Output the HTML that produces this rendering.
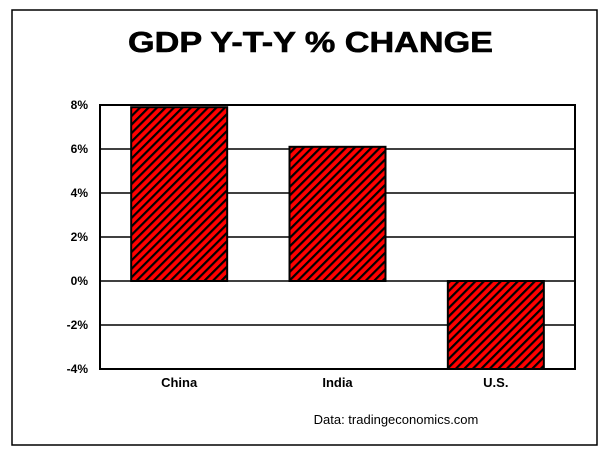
<!DOCTYPE html>
<html><head><meta charset="utf-8"><style>
html,body{margin:0;padding:0;background:#fff;width:612px;height:464px;overflow:hidden}
svg text{font-family:"Liberation Sans",Arial,sans-serif}
</style></head><body>
<svg id="chart" width="612" height="464">
<defs>
<pattern id="hatch" patternUnits="userSpaceOnUse" width="6" height="6" patternTransform="rotate(45)">
<rect width="6" height="6" fill="#f00"/>
<rect x="0" y="0" width="2.2" height="6" fill="#000"/>
</pattern>
</defs>
<rect x="12" y="10" width="585" height="435" fill="none" stroke="#000" stroke-width="1.5"/>
<text x="128" y="52" textLength="365" lengthAdjust="spacingAndGlyphs" font-size="29" font-weight="bold" stroke="#000" stroke-width="0.6">GDP Y-T-Y % CHANGE</text>
<g id="grid"></g>
<g id="bars"></g>
<rect x="100" y="105" width="475" height="264" fill="none" stroke="#000" stroke-width="2"/>
<g id="labels"></g>
<text x="396" y="424" text-anchor="middle" font-size="13">Data: tradingeconomics.com</text>
</svg>
<script>
const categories=["China","India","U.S."];
const values=[7.9,6.1,-4.0];
const ticks=[8,6,4,2,0,-2,-4];
const tickLabels=["8%","6%","4%","2%","0%","-2%","-4%"];
const ns="http://www.w3.org/2000/svg";
const x0=100,x1=575,yMin=-4,yMax=8,yTop=105,yBot=369;
function y(v){return yBot-(v-yMin)/(yMax-yMin)*(yBot-yTop);}
const band=(x1-x0)/categories.length;
function xc(i){return x0+band*(i+0.5);}
function mk(t,a){const e=document.createElementNS(ns,t);for(const k in a)e.setAttribute(k,a[k]);return e;}
const grid=document.getElementById('grid'),bars=document.getElementById('bars'),labels=document.getElementById('labels');
ticks.forEach((t,i)=>{
 const l=mk('line',{x1:x0,x2:x1,y1:y(t),y2:y(t),stroke:'#000','stroke-width':1.5});
 
 
 grid.appendChild(l);
 const tx=mk('text',{x:88,y:y(t)+4,'text-anchor':'end','font-size':12,'font-weight':'bold'});
 tx.textContent=tickLabels[i];
 
 
 labels.appendChild(tx);
});
const bw=96;
values.forEach((v,i)=>{
 const top=y(Math.max(v,0)),bot=y(Math.min(v,0));
 const r=mk('rect',{x:xc(i)-bw/2,y:top,width:bw,height:bot-top,fill:'url(#hatch)',stroke:'#000','stroke-width':2});
 
 
 bars.appendChild(r);
 const tx=mk('text',{x:xc(i),y:387,'text-anchor':'middle','font-size':13,'font-weight':'bold'});
 tx.textContent=categories[i];
 
 
 labels.appendChild(tx);
});
</script>
</body></html>
